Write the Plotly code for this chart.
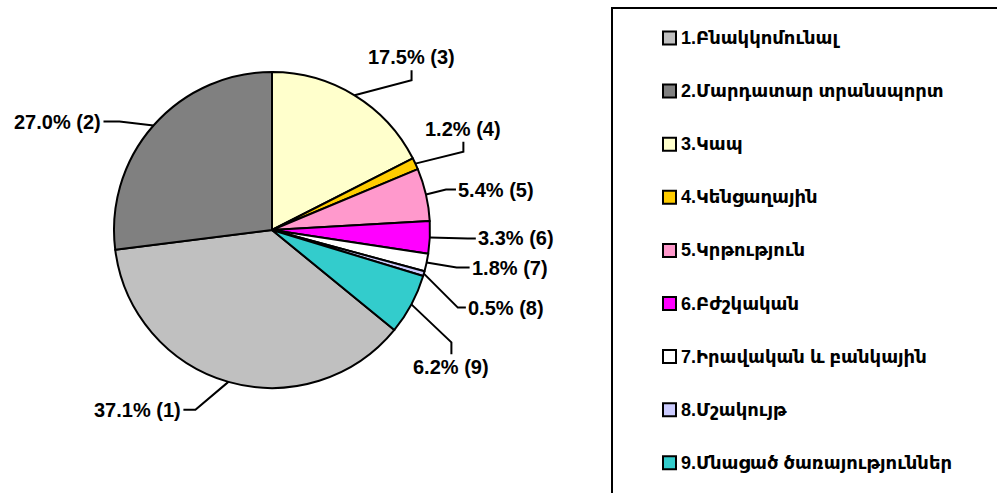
import math
import plotly.graph_objects as go

# ---- data ----
categories = ["1.Բնակկոմունալ", "2.Մարդատար տրանսպորտ", "3.Կապ", "4.Կենցաղային",
              "5.Կրթություն", "6.Բժշկական", "7.Իրավական և բանկային", "8.Մշակույթ",
              "9.Մնացած ծառայություններ"]
shares = [37.1, 27.0, 17.5, 1.2, 5.4, 3.3, 1.8, 0.5, 6.2]
slice_numbers = ["1", "2", "3", "4", "5", "6", "7", "8", "9"]
colors = ["#C0C0C0", "#808080", "#FFFFCC", "#FFCC00", "#FF99CC",
          "#FF00FF", "#FFFFFF", "#CCCCFF", "#33CCCC"]

# ---- layout ----
W, H = 997, 493
CX, CY, R = 272, 230, 158
# slice 1 starts so that slice 3 starts at 12 o'clock
rotation = 360.0 * sum(shares[2:]) / sum(shares)

# leader-line layout: (elbow dx, elbow dy, tab dx, tab dy, text side)
leader = [(-33, 28, -12, 0, "left"), (-34, -4, -16, 0, "left"),
          (57, -15, 0, -10, "top"), (48, -12, 0, -10, "top"),
          (20, -5, 10, 0, "right"), (38, 1, 8, 0, "right"),
          (30, 5, 13, 0, "right"), (34, 34, 8, 0, "right"),
          (40, 38, 0, 12, "bottom")]

LABEL_FONT = dict(family="Liberation Sans, Arial, sans-serif", size=20, color="black")
LEG_FONT = dict(family="Liberation Sans, DejaVu Sans, sans-serif", size=18, color="black")


def px(x):
    return x / W


def py(y):
    return 1 - y / H


fig = go.Figure(go.Pie(
    labels=categories, values=shares, sort=False, direction="clockwise",
    rotation=rotation, marker=dict(colors=colors, line=dict(color="black", width=2)),
    textinfo="none", hoverinfo="label+percent", showlegend=False,
    domain=dict(x=[px(CX - R), px(CX + R)], y=[py(CY + R), py(CY - R)]),
))

shapes = []
annotations = []
total = sum(shares)
cum = 0.0
for i, v in enumerate(shares):
    mid = rotation + 360.0 * (cum + v / 2) / total
    cum += v
    a = math.radians(mid)
    ex, ey = CX + R * math.sin(a), CY - R * math.cos(a)
    dx1, dy1, dx2, dy2, side = leader[i]
    bx, by = ex + dx1, ey + dy1
    tx, ty = bx + dx2, by + dy2
    shapes.append(dict(type="path", xref="paper", yref="paper",
                       path=f"M {px(ex)},{py(ey)} L {px(bx)},{py(by)} L {px(tx)},{py(ty)}",
                       line=dict(color="black", width=2)))
    txt = f"<b>{v:.1f}% ({slice_numbers[i]})</b>"
    if side == "left":
        ann = dict(x=px(tx - 1), y=py(ty), xanchor="right", yanchor="middle")
    elif side == "right":
        ann = dict(x=px(tx + 1), y=py(ty), xanchor="left", yanchor="middle")
    elif side == "top":
        ann = dict(x=px(tx), y=py(ty - 1), xanchor="center", yanchor="bottom")
    else:
        ann = dict(x=px(tx), y=py(ty + 1), xanchor="center", yanchor="top")
    ann.update(text=txt, showarrow=False, xref="paper", yref="paper", font=LABEL_FONT,
               borderpad=0)
    annotations.append(ann)

# legend box
shapes.append(dict(type="rect", xref="paper", yref="paper",
                   x0=px(612), x1=px(1010), y0=py(510), y1=py(8),
                   line=dict(color="black", width=2), fillcolor="rgba(0,0,0,0)"))
LEG_X, LEG_Y0, LEG_STEP, SQ = 663, 38, 53.1, 13
for i, name in enumerate(categories):
    yc = LEG_Y0 + i * LEG_STEP
    shapes.append(dict(type="rect", xref="paper", yref="paper",
                       x0=px(LEG_X), x1=px(LEG_X + SQ), y0=py(yc + SQ / 2), y1=py(yc - SQ / 2),
                       line=dict(color="black", width=2), fillcolor=colors[i]))
    annotations.append(dict(x=px(LEG_X + SQ + 4), y=py(yc), xref="paper", yref="paper",
                            xanchor="left", yanchor="middle", showarrow=False,
                            text=f"<b>{name}</b>", font=LEG_FONT, borderpad=0))

fig.update_layout(width=W, height=H, margin=dict(l=0, r=0, t=0, b=0),
                  paper_bgcolor="white", plot_bgcolor="white",
                  shapes=shapes, annotations=annotations, showlegend=False)
fig.write_html("out.html", config={"displayModeBar": False},
               post_script="document.body.style.margin='0';")
